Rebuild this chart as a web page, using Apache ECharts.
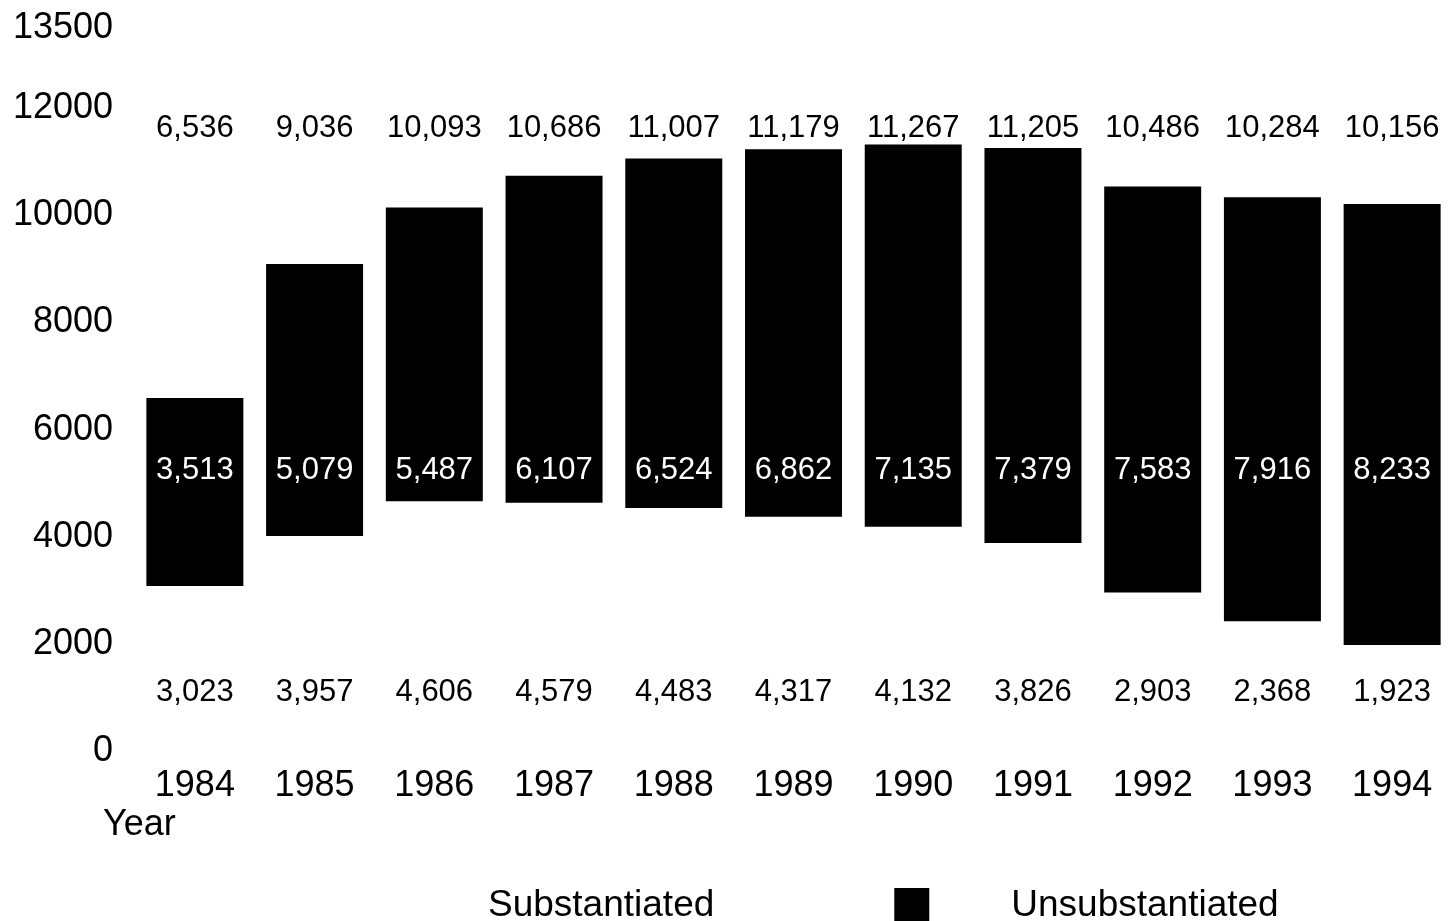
<!DOCTYPE html>
<html>
<head>
<meta charset="utf-8">
<script src="https://cdn.jsdelivr.net/npm/echarts@6/dist/echarts.min.js"></script>
<style>html,body{margin:0;padding:0;background:#fff}#c{width:1456px;height:921px}</style>
</head>
<body>
<div id="c"></div>
<script>
var years = ['1984','1985','1986','1987','1988','1989','1990','1991','1992','1993','1994'];
var substantiated = [3023, 3957, 4606, 4579, 4483, 4317, 4132, 3826, 2903, 2368, 1923];
var unsubstantiated = [3513, 5079, 5487, 6107, 6524, 6862, 7135, 7379, 7583, 7916, 8233];
var totals = [6536, 9036, 10093, 10686, 11007, 11179, 11267, 11205, 10486, 10284, 10156];
var yTicks = [0, 2000, 4000, 6000, 8000, 10000, 12000, 13500];

function fmt(v){ return v.toLocaleString('en-US'); }
var FONT = 'Liberation Sans, Arial, sans-serif';

function labelSeries(name, level, arr, color){
  return {
    name: name, type: 'scatter', symbolSize: 1, silent: true, z: 10,
    itemStyle: { color: 'rgba(0,0,0,0)', opacity: 1 },
    data: years.map(function(y, i){ return [y, level]; }),
    label: { show: true, position: 'inside', color: color, opacity: 1, fontFamily: FONT, fontSize: 31,
      formatter: function(p){ return fmt(arr[p.dataIndex]); } },
    emphasis: { disabled: true },
    tooltip: { show: false }
  };
}

var chart = echarts.init(document.getElementById('c'));
chart.setOption({
  backgroundColor: '#fff',
  animation: false,
  grid: { left: 135, right: 4, top: 25, bottom: 173, containLabel: false },
  xAxis: {
    type: 'category', data: years,
    axisLine: { show: false }, axisTick: { show: false },
    axisLabel: { color: '#000', fontFamily: FONT, fontSize: 36, margin: 20 }
  },
  yAxis: {
    type: 'value', min: 0, max: 13500, interval: 2000,
    splitLine: { show: false }, axisLine: { show: false }, axisTick: { show: false },
    axisLabel: { color: '#000', fontFamily: FONT, fontSize: 36, margin: 22, showMaxLabel: true,
      verticalAlign: 'top', lineHeight: 6,
      formatter: function(v){ return yTicks.indexOf(v) >= 0 ? String(v) : ''; } }
  },
  legend: {
    data: ['Substantiated', 'Unsubstantiated'],
    left: 366, top: 882,
    icon: 'rect', itemWidth: 35, itemHeight: 35, itemGap: 180,
    textStyle: { color: '#000', fontFamily: FONT, fontSize: 37, padding: [0, 0, 0, 77] }
  },
  graphic: [{
    type: 'text', left: 103, top: 807,
    style: { text: 'Year', fill: '#000', font: '36px ' + FONT }
  }],
  series: [
    { name: 'Substantiated', type: 'bar', stack: 'a', barCategoryGap: '19%',
      itemStyle: { color: '#fff' }, data: substantiated },
    { name: 'Unsubstantiated', type: 'bar', stack: 'a',
      itemStyle: { color: '#000' }, data: unsubstantiated },
    labelSeries('topLabels', 11570, totals, '#000'),
    labelSeries('midLabels', 5190, unsubstantiated, '#fff'),
    labelSeries('botLabels', 1030, substantiated, '#000')
  ]
});
</script>
</body>
</html>
